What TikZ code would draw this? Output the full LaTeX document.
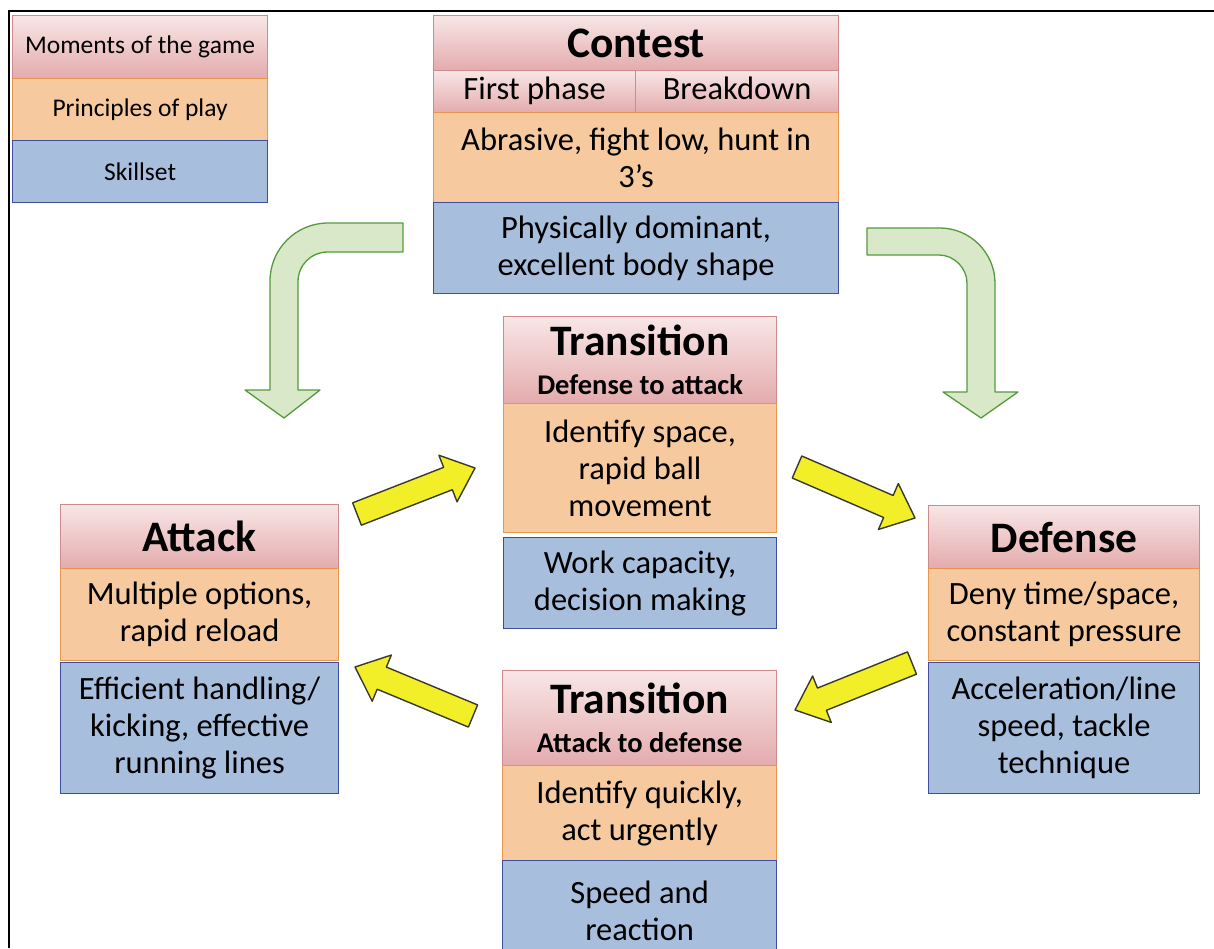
\documentclass[tikz,border=0pt]{standalone}
\usepackage{fontspec}
\setmainfont{Carlito}
\usetikzlibrary{calc}
\definecolor{pinktop}{HTML}{F8E6E6}
\definecolor{pinkbot}{HTML}{E4ABAD}
\definecolor{pinkline}{HTML}{CF8A8D}
\definecolor{orangefill}{HTML}{F6CA9E}
\definecolor{orangeline}{HTML}{E8964E}
\definecolor{bluefill}{HTML}{A8BEDD}
\definecolor{blueline}{HTML}{3F4FA0}
\definecolor{greenfill}{HTML}{D9E8C8}
\definecolor{greenline}{HTML}{559A3E}
\definecolor{yellowfill}{HTML}{F2EE28}
\definecolor{yellowline}{HTML}{3A3A2A}
\newcommand{\legendfont}{\fontsize{25.5}{29}\selectfont}
\newcommand{\bodyfont}{\fontsize{32.5}{37}\selectfont}
\newcommand{\titlefont}{\fontsize{43.5}{44}\selectfont\bfseries}
\newcommand{\transfont}{\fontsize{43.5}{39}\selectfont\bfseries}
\newcommand{\subfont}{\fontsize{28.5}{39}\selectfont\bfseries}
\tikzset{
  box/.style={draw, anchor=north west, inner sep=0pt, align=center, line width=1.2pt},
  moment/.style={box, draw=pinkline, top color=pinktop, bottom color=pinkbot},
  principle/.style={box, draw=orangeline, fill=orangefill, font=\bodyfont},
  skill/.style={box, draw=blueline, fill=bluefill, font=\bodyfont},
  phase/.style={moment, font=\bodyfont, text height=22pt, text depth=7pt},
  bentarrow/.style={draw=greenline, fill=greenfill, line width=1.3pt, line join=round},
  yarrow/.style={draw=yellowline, fill=yellowfill, line width=1.4pt, line join=round}
}
% block arrow from tail #1 to tip #2
\newcommand{\yellowarrow}[2]{%
  \coordinate (neck) at ($(#2)!29pt!(#1)$);
  \draw[yarrow] ($(#1)!12pt!90:(#2)$) -- ($(neck)!12pt!-90:(#1)$) -- ($(neck)!25pt!-90:(#1)$)
    -- (#2) -- ($(neck)!25pt!90:(#1)$) -- ($(neck)!12pt!90:(#1)$) -- ($(#1)!12pt!-90:(#2)$) -- cycle;}
\begin{document}
\begin{tikzpicture}[x=1pt,y=-1pt]
\useasboundingbox (0,0) rectangle (1214,948);
\clip (0,0) rectangle (1214,948);
% frame
\draw[line width=2.2pt] (9,948) -- (9,11) -- (1214,11);
% legend
\node[moment, minimum width=255pt, minimum height=63pt, font=\legendfont] (legmoment) at (12,15) {Moments of the game};
\node[principle, minimum width=255pt, minimum height=62pt, font=\legendfont] (legprinciple) at (12,78) {Principles of play};
\node[skill, minimum width=255pt, minimum height=62pt, font=\legendfont] (legskill) at (12,140) {Skillset};
% contest
\node[moment, minimum width=405pt, minimum height=55pt, font=\titlefont] (contest) at (433,15) {Contest};
\node[phase, minimum width=202pt, minimum height=42pt] (firstphase) at (433,70) {First phase};
\node[phase, minimum width=203pt, minimum height=42pt] (breakdown) at (635,70) {Breakdown};
\node[principle, minimum width=405pt, minimum height=90pt] (contestp) at (433,112) {Abrasive, fight low, hunt in\\3’s};
\node[skill, minimum width=405pt, minimum height=91pt] (contests) at (433,202) {Physically dominant,\\excellent body shape};
% transition defense to attack
\node[moment, minimum width=273pt, minimum height=87pt, font=\transfont] (transda) at (503,316) {Transition\\{\subfont Defense to attack}};
\node[principle, minimum width=273pt, minimum height=129pt] (transdap) at (503,403) {Identify space,\\rapid ball\\movement};
\node[skill, minimum width=273pt, minimum height=91pt] (transdas) at (503,537) {Work capacity,\\decision making};
% attack
\node[moment, minimum width=278pt, minimum height=64pt, font=\titlefont] (attack) at (60,504) {Attack};
\node[principle, minimum width=278pt, minimum height=92pt] (attackp) at (60,568) {Multiple options,\\rapid reload};
\node[skill, minimum width=278pt, minimum height=131pt] (attacks) at (60,662) {Efficient handling/\\kicking, effective\\running lines};
% defense
\node[moment, minimum width=271pt, minimum height=63pt, font=\titlefont] (defense) at (928,505) {Defense};
\node[principle, minimum width=271pt, minimum height=92pt] (defensep) at (928,568) {Deny time/space,\\constant pressure};
\node[skill, minimum width=271pt, minimum height=131pt] (defenses) at (928,662) {Acceleration/line\\speed, tackle\\technique};
% transition attack to defense
\node[moment, minimum width=274pt, minimum height=95pt, font=\transfont] (transad) at (502,670) {Transition\\{\subfont Attack to defense}};
\node[principle, minimum width=274pt, minimum height=95pt] (transadp) at (502,765) {Identify quickly,\\act urgently};
\node[skill, minimum width=274pt, minimum height=100pt] (transads) at (502,860) {\raisebox{-14pt}{\parbox{274pt}{\centering Speed and\\reaction}}};
% green bent arrows
\draw[bentarrow] (403,223) -- (328,223) .. controls (296,223) and (270,249) .. (270,281)
  -- (270,390) -- (245,390) -- (284,418) -- (320,390) -- (298,390) -- (298,282)
  .. controls (298,265) and (311,252) .. (328,252) -- (403,252) -- cycle;
\draw[bentarrow] (867,228) -- (940,228) .. controls (970,228) and (995,253) .. (995,283)
  -- (995,392) -- (1018,392) -- (981,418) -- (943,392) -- (967,392) -- (967,283)
  .. controls (967,268) and (954,255) .. (939,255) -- (867,255) -- cycle;
% yellow arrows
\coordinate (a1tail) at (357,514);
\coordinate (a1tip) at (475,468);
\coordinate (a2tail) at (797,467);
\coordinate (a2tip) at (915,518);
\coordinate (a3tail) at (912,663);
\coordinate (a3tip) at (795,710);
\coordinate (a4tail) at (473,716);
\coordinate (a4tip) at (355,667);
\yellowarrow{a1tail}{a1tip}
\yellowarrow{a2tail}{a2tip}
\yellowarrow{a3tail}{a3tip}
\yellowarrow{a4tail}{a4tip}
\end{tikzpicture}
\end{document}
